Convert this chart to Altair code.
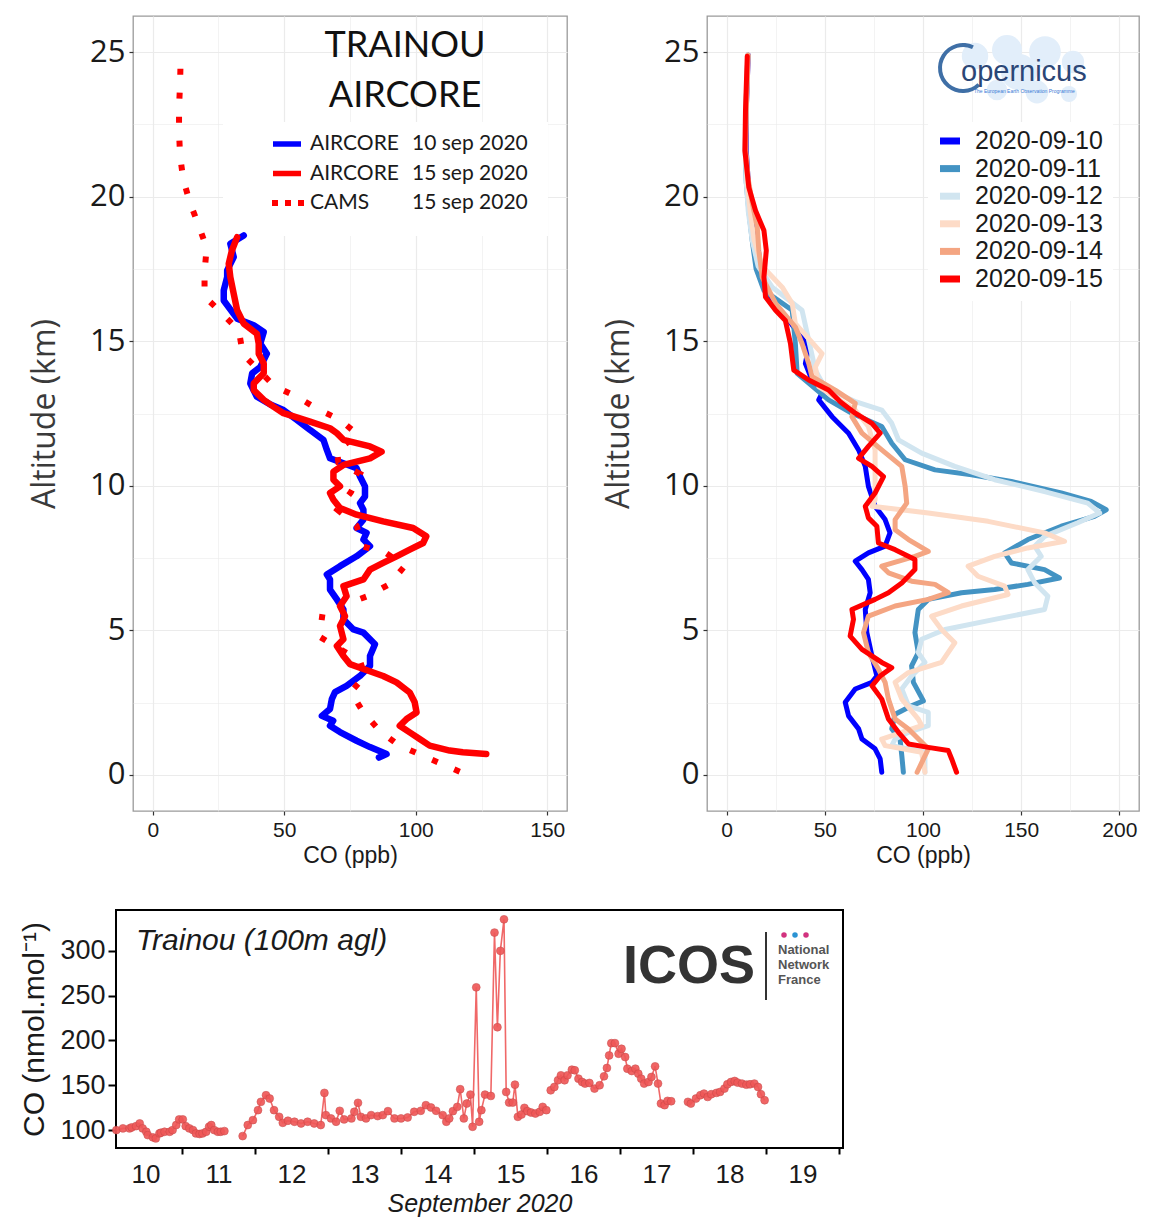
import altair as alt
import pandas as pd

# ---------------- Top-left panel: AIRCORE vertical profiles ----------------
AC10_ALT = [0.60, 0.72, 0.96, 1.18, 1.48, 1.70, 1.87, 2.04, 2.28, 2.62, 2.86, 3.08, 3.42, 3.77, 4.11,
            4.52, 4.92, 5.03, 5.38, 5.72, 6.07, 6.41, 6.76, 6.93, 7.22, 7.56, 7.91, 8.14, 8.37, 8.54,
            8.83, 9.17, 9.40, 9.63, 9.98, 10.32, 10.61, 10.78, 10.95, 11.24, 11.59, 11.93, 12.28, 12.62, 12.80,
            13.08, 13.54, 13.89, 14.11, 14.57, 14.92, 15.32, 15.55, 15.78, 16.41, 16.76, 17.22, 17.45, 17.91, 18.37,
            18.66]
AC10_CO = [86.0, 88.9, 82.6, 77.5, 71.2, 67.4, 68.6, 64.3, 67.4, 68.1, 69.3, 73.7, 78.8, 82.6, 82.6,
           84.5, 80.1, 76.3, 72.5, 72.5, 70.0, 67.4, 67.4, 66.2, 71.2, 77.5, 82.6, 80.1, 81.3, 77.5,
           80.1, 80.1, 78.8, 80.7, 80.7, 78.8, 77.5, 72.5, 67.4, 66.2, 64.9, 59.8, 54.8, 49.7, 45.0,
           39.6, 37.1, 37.8, 40.9, 43.4, 40.9, 42.2, 38.4, 32.1, 27.0, 27.0, 28.3, 28.3, 30.8, 29.5,
           34.6]
AC15_ALT = [0.72, 0.78, 0.84, 1.01, 1.24, 1.47, 1.70, 1.93, 2.16, 2.51, 2.85, 3.20, 3.42, 3.66, 3.83,
            4.11, 4.46, 4.69, 5.15, 5.49, 5.84, 6.18, 6.53, 6.76, 7.10, 7.33, 7.56, 7.79, 8.02, 8.25,
            8.54, 8.77, 9.00, 9.23, 9.52, 9.75, 9.98, 10.21, 10.49, 10.72, 10.95, 11.18, 11.36, 11.59, 11.82,
            11.99, 12.22, 12.51, 12.73, 12.97, 13.31, 13.54, 13.89, 14.23, 14.57, 14.92, 15.26, 15.61, 16.07, 16.64,
            17.22, 17.68, 18.14, 18.60]
AC15_CO = [126.8, 117.9, 112.9, 105.3, 101.5, 97.7, 93.9, 96.5, 100.3, 99.6, 97.7, 92.7, 87.6, 80.1, 75.0,
           72.5, 70.0, 72.5, 71.2, 73.1, 71.2, 73.7, 72.5, 80.1, 82.6, 87.6, 92.7, 97.7, 102.8, 104.0,
           99.0, 87.6, 77.5, 71.2, 68.7, 67.4, 71.2, 68.7, 68.7, 72.5, 82.6, 87.0, 82.6, 72.5, 70.0,
           67.4, 59.8, 49.7, 46.0, 42.2, 38.4, 38.4, 42.2, 42.2, 40.3, 40.3, 39.6, 34.6, 32.1, 30.8,
           29.5, 28.9, 30.1, 32.1]
CAMS15_ALT = [0.11, 1.03, 1.53, 2.16, 2.87, 3.42, 3.94, 4.78, 5.61, 6.18, 6.59, 7.22, 7.66, 7.91, 8.62,
              9.17, 9.77, 10.41, 10.80, 11.24, 11.76, 12.28, 12.64, 13.08, 13.45, 14.55, 15.38, 16.01, 16.55, 17.39,
              18.23, 19.00, 19.80, 20.61, 21.41, 22.25, 23.08, 23.91, 24.75]
CAMS15_CO = [116.7, 93.4, 86.2, 80.1, 75.3, 80.7, 78.8, 63.4, 64.6, 81.6, 89.9, 95.8, 88.9, 79.8, 77.5,
             70.2, 75.3, 78.8, 70.6, 70.0, 78.1, 71.2, 63.0, 54.8, 46.2, 34.3, 32.7, 25.8, 19.7, 19.7,
             20.5, 17.5, 14.1, 11.6, 10.4, 10.0, 10.0, 10.4, 10.6]

LEG_L_NAME = ["AIRCORE", "AIRCORE", "CAMS"]
LEG_L_DATE = ["10 sep 2020", "15 sep 2020", "15 sep 2020"]
LEG_L_COLOR = ["#0000ff", "#ff0000", "#ff0000"]
XL_TICKS = [0, 25, 50, 75, 100, 125, 150]

# ---------------- Top-right panel: CAMS daily forecasts ----------------
D10_ALT = [0.09, 0.55, 0.90, 1.24, 1.59, 2.04, 2.51, 2.97, 3.20, 3.42, 4.11, 4.92, 5.72, 6.30, 6.76,
           7.10, 7.39, 7.68, 7.91, 8.37, 8.83, 9.29, 9.98, 10.67, 11.24, 11.82, 12.39, 12.97, 13.20, 13.66,
           14.23, 14.80, 15.60, 16.50, 17.30, 18.20, 19.50, 20.50, 21.60, 23.00, 24.90]
D10_CO = [79.0, 78.2, 75.6, 68.9, 67.2, 62.1, 60.4, 65.5, 74.0, 76.5, 74.0, 71.4, 70.6, 73.1, 72.2,
          68.9, 65.5, 72.2, 80.7, 83.2, 80.7, 75.6, 72.2, 70.6, 67.2, 62.1, 53.7, 46.9, 48.6, 43.5,
          40.1, 41.8, 33.0, 22.0, 18.0, 16.0, 13.0, 11.0, 10.0, 10.0, 11.0]
D11_ALT = [0.09, 0.67, 1.24, 1.59, 2.10, 2.39, 2.56, 3.20, 3.77, 4.23, 4.92, 5.72, 6.07, 6.30, 6.41,
           6.59, 6.81, 7.10, 7.33, 7.68, 8.14, 8.60, 8.94, 9.17, 9.46, 9.75, 10.15, 10.38, 10.55, 10.90,
           11.47, 12.05, 12.51, 12.97, 13.89, 14.92, 16.07, 16.76, 17.50, 18.50, 19.52, 20.50, 21.60, 23.00, 24.90]
D11_CO = [90.0, 89.2, 88.3, 84.1, 85.8, 94.2, 100.2, 95.1, 94.2, 97.6, 95.9, 97.6, 102.7, 119.6, 136.5,
          153.4, 169.5, 161.9, 145.0, 141.6, 153.4, 170.4, 187.3, 193.3, 185.6, 170.4, 145.0, 124.7, 106.1, 90.9,
          84.1, 79.0, 63.8, 51.9, 35.9, 35.0, 33.4, 19.0, 15.0, 13.0, 11.3, 10.0, 9.5, 9.8, 10.8]
D12_ALT = [0.09, 0.78, 1.01, 1.24, 1.47, 1.70, 2.16, 2.39, 2.97, 3.42, 3.89, 4.23, 4.69, 5.03, 5.38,
           5.72, 6.18, 6.64, 7.10, 7.56, 7.91, 8.25, 8.72, 9.06, 9.40, 9.80, 10.21, 10.67, 11.13, 11.59,
           12.16, 12.62, 12.90, 13.40, 14.00, 15.03, 16.07, 16.87, 17.60, 18.50, 19.50, 20.50, 21.60, 23.00, 24.90]
D12_CO = [101.0, 101.0, 84.1, 85.8, 92.6, 102.7, 102.7, 92.6, 89.2, 94.2, 101.0, 97.6, 99.3, 111.2, 136.5,
          161.9, 163.6, 156.9, 153.4, 160.2, 156.9, 161.9, 178.8, 190.0, 183.9, 161.9, 136.5, 116.2, 99.3, 87.5,
          84.1, 79.0, 66.0, 50.0, 45.2, 41.8, 38.4, 23.2, 16.0, 13.0, 11.0, 10.0, 9.5, 9.8, 10.8]
D13_ALT = [0.09, 0.78, 1.01, 1.24, 1.47, 1.70, 1.93, 2.62, 3.20, 3.54, 3.89, 4.57, 5.03, 5.49, 5.84,
           6.24, 6.53, 6.87, 7.22, 7.56, 7.85, 8.08, 8.37, 8.77, 9.06, 9.29, 9.52, 10.32, 11.24, 12.05,
           12.62, 13.43, 14.11, 14.57, 15.61, 16.30, 16.87, 17.60, 18.50, 19.50, 20.50, 21.60, 23.00, 24.90]
D13_CO = [101.0, 99.3, 80.7, 79.0, 89.2, 99.3, 97.6, 89.2, 85.8, 92.6, 109.4, 116.2, 109.4, 104.4, 119.6,
          143.3, 141.6, 128.0, 123.0, 136.5, 153.4, 172.1, 161.9, 133.2, 102.7, 74.0, 75.6, 75.6, 75.6, 72.2,
          65.5, 46.9, 45.2, 48.6, 35.0, 33.4, 28.3, 18.0, 14.0, 12.0, 10.5, 9.5, 9.8, 10.8]
D14_ALT = [0.09, 0.90, 1.59, 1.93, 2.62, 3.20, 3.66, 4.23, 4.92, 5.49, 5.84, 6.07, 6.30, 6.59, 6.70,
           6.99, 7.22, 7.56, 7.73, 8.14, 8.48, 8.83, 9.40, 9.98, 10.67, 11.24, 11.82, 12.39, 12.85, 13.31,
           13.77, 14.23, 14.92, 15.49, 16.30, 17.22, 18.14, 18.94, 19.80, 20.60, 21.60, 23.00, 24.90]
D14_CO = [97.0, 102.7, 92.6, 85.8, 82.4, 80.7, 77.3, 72.2, 69.7, 72.2, 85.8, 102.7, 112.9, 106.1, 94.2,
          82.4, 79.0, 95.9, 102.7, 92.6, 85.8, 85.8, 91.7, 90.9, 89.2, 79.0, 68.9, 63.8, 65.5, 55.3,
          43.5, 41.8, 38.4, 35.0, 25.0, 18.1, 16.4, 15.6, 13.0, 11.0, 9.8, 10.0, 11.0]
D15_ALT = [0.09, 0.55, 0.84, 0.95, 1.07, 1.47, 1.93, 2.62, 3.08, 3.42, 3.71, 3.89, 4.34, 4.80, 5.38,
           5.72, 6.07, 6.30, 6.64, 7.10, 7.45, 7.79, 8.02, 8.60, 8.89, 9.29, 9.75, 10.32, 10.67, 10.95,
           11.36, 11.82, 12.16, 12.51, 12.90, 13.31, 13.66, 14.00, 14.92, 15.72, 16.07, 16.53, 17.22, 18.14, 18.83,
           19.52, 20.32, 21.59, 22.97, 24.86]
D15_CO = [117.1, 114.6, 112.9, 102.7, 92.6, 87.5, 82.4, 79.0, 74.0, 78.2, 84.1, 79.0, 68.9, 62.9, 64.6,
          63.8, 75.6, 82.4, 89.2, 95.9, 95.9, 85.8, 77.3, 76.5, 72.2, 70.6, 75.6, 79.9, 74.0, 67.2,
          72.2, 78.2, 74.0, 65.5, 58.0, 51.9, 41.8, 34.2, 32.5, 29.9, 24.9, 19.8, 19.0, 20.2, 19.0,
          14.7, 11.3, 9.3, 9.6, 10.5]

DATES_R = ["2020-09-10", "2020-09-11", "2020-09-12", "2020-09-13", "2020-09-14", "2020-09-15"]
COLORS_R = ["#0000ff", "#4393c3", "#d1e5f0", "#fddbc7", "#f4a582", "#ff0000"]
XR_TICKS = [0, 25, 50, 75, 100, 125, 150, 175, 200]
Y_TICKS = [0, 2.5, 5, 7.5, 10, 12.5, 15, 17.5, 20, 22.5, 25]

# ---------------- Bottom panel: ICOS Trainou 100 m time series ----------------
SEG0_DAY = [10.10, 10.19, 10.28, 10.31, 10.37, 10.42, 10.46, 10.51, 10.53, 10.60, 10.64, 10.69, 10.71, 10.76, 10.83,
            10.87, 10.92, 10.96, 11.01, 11.05, 11.10, 11.15, 11.19, 11.24, 11.28, 11.33, 11.37, 11.40, 11.44, 11.49,
            11.53, 11.58]
SEG0_CO = [100, 101.9, 101.9, 103, 104.4, 107.4, 101.9, 98.1, 94.4, 91.9, 90.7, 96.3, 97, 98.1, 98.1,
           100, 105.6, 111.9, 111.9, 104.4, 101.9, 100, 96.3, 95.6, 96.3, 98.1, 103.7, 105.6, 100, 98.1,
           98.1, 98.9]
SEG1_DAY = [11.83, 11.90, 11.97, 12.04, 12.08, 12.15, 12.20, 12.26, 12.33, 12.38, 12.45, 12.54, 12.63, 12.72, 12.81,
            12.90, 12.95, 12.97, 13.04, 13.11, 13.16, 13.22, 13.32, 13.36, 13.41, 13.45, 13.52, 13.59, 13.68, 13.75,
            13.82, 13.91, 14.00, 14.09, 14.18, 14.27, 14.34, 14.41, 14.48, 14.57, 14.62, 14.66, 14.71, 14.77, 14.81,
            14.86, 14.90, 14.95, 14.98, 15.03, 15.07, 15.10, 15.15, 15.23, 15.28, 15.32, 15.36, 15.41, 15.44, 15.48,
            15.53, 15.56, 15.60, 15.65, 15.69, 15.73, 15.78, 15.84, 15.90, 15.94, 15.99]
SEG1_CO = [93.3, 105.6, 111.1, 122.2, 131.5, 138.9, 135.2, 122.2, 114.8, 108.1, 110.4, 109.3, 107.4, 109.3, 107.4,
           105.6, 141.5, 116.7, 113.0, 109.3, 121.5, 111.9, 113.0, 120.4, 130.4, 114.8, 113.0, 116.7, 115.6, 116.7,
           121.1, 113.0, 113.0, 114.1, 120.4, 121.5, 127.8, 125.2, 121.5, 116.7, 109.3, 113.0, 121.1, 125.9, 145.6,
           113.0, 129.6, 139.6, 103.7, 259.3, 109.3, 122.2, 139.6, 138.1, 320.4, 214.8, 300.0, 335.2, 142.6, 130.7,
           130.7, 150.7, 114.8, 117.4, 124.8, 121.1, 119.6, 118.5, 120.4, 125.9, 122.2]
SEG2_DAY = [16.05, 16.10, 16.15, 16.19, 16.24, 16.28, 16.34, 16.38, 16.43, 16.48, 16.52, 16.58, 16.65, 16.72, 16.78,
            16.82, 16.85, 16.88, 16.93, 16.98, 17.02, 17.07, 17.10, 17.16, 17.21, 17.25, 17.29, 17.33, 17.39, 17.43,
            17.48, 17.52, 17.56, 17.61, 17.65, 17.70]
SEG2_CO = [144.4, 148.1, 155.6, 161.1, 155.6, 161.1, 167.4, 166.7, 157.4, 153.7, 151.9, 152.6, 146.3, 150.0, 160.0,
           169.3, 183.3, 197.0, 197.0, 185.2, 190.7, 181.5, 168.5, 165.9, 168.5, 163.0, 157.4, 151.9, 153.7, 159.3,
           171.1, 151.9, 129.6, 127.8, 132.6, 132.2]
SEG3_DAY = [17.93, 17.97, 18.04, 18.10, 18.15, 18.20, 18.25, 18.32, 18.37, 18.43, 18.47, 18.52, 18.57, 18.61, 18.67,
            18.73, 18.78, 18.84, 18.89, 18.93, 18.98]
SEG3_CO = [131.5, 129.6, 135.2, 138.9, 140.7, 137.0, 140.0, 141.5, 142.6, 146.3, 151.1, 153.7, 154.8, 153.0, 151.9,
           150.7, 151.1, 151.9, 148.1, 140.0, 133.3]
XB_TICKS = [11, 12, 13, 14, 15, 16, 17, 18, 19, 20]
YB_TICKS = [100, 150, 200, 250, 300]
ICOS_DOT_COLORS = ["#d2327f", "#2b93d3", "#d2327f"]
ICOS_WORDS = ["National", "Network", "France"]

# ---------------- helpers ----------------
ONE = pd.DataFrame({"k": [0]})
GRID = "#ebebeb"
TXT = "#1a1a1a"


def prof(alts, cos):
    assert len(alts) == len(cos)
    return pd.DataFrame({"alt": alts, "co": cos, "i": list(range(len(alts)))})


def cond(test, a, b):
    return {"condition": {"test": test, "value": a}, "value": b}


def x_axis(vals):
    t = "datum.value % 50 == 0"
    return alt.Axis(values=vals, title="CO (ppb)", domain=False, grid=True,
                    gridColor=GRID, gridWidth=cond(t, 1.2, 0.6),
                    tickOpacity=cond(t, 1, 0), tickColor="#333333", tickSize=4, tickWidth=1.2,
                    labelExpr=t + " ? datum.label : ''", labelOverlap=False, labelFlush=False,
                    labelFont="Liberation Sans", labelFontSize=21, labelColor=TXT, labelPadding=4,
                    titleFont="Liberation Sans", titleFontSize=23, titleFontWeight="normal",
                    titleColor=TXT, titlePadding=4)


def y_axis():
    t = "datum.value % 5 == 0"
    return alt.Axis(values=Y_TICKS, title="Altitude (km)", domain=False, grid=True,
                    gridColor=GRID, gridWidth=cond(t, 1.2, 0.6),
                    tickOpacity=cond(t, 1, 0), tickColor="#333333", tickSize=4, tickWidth=1.2,
                    labelExpr=t + " ? datum.label : ''", labelOverlap=False, labelFlush=False,
                    labelFont="Open Sans", labelFontSize=31, labelColor=TXT, labelPadding=4,
                    titleFont="Open Sans", titleFontSize=32, titleFontWeight="normal",
                    titleColor="#3a3a3a", titlePadding=28)


def txt(text, x, y, **kw):
    return alt.Chart(ONE).mark_text(text=text, **kw).encode(x=alt.value(x), y=alt.value(y))


def box(x, x2, y, y2):
    return alt.Chart(ONE).mark_rect(fill="white").encode(
        x=alt.value(x), x2=alt.value(x2), y=alt.value(y), y2=alt.value(y2))


YS = alt.Scale(domain=[-1.25, 26.25], nice=False, zero=False)
YENC = alt.Y("alt:Q", scale=YS, axis=y_axis())
PANEL_VIEW = alt.ViewBackground(stroke="#9a9a9a", strokeWidth=1.3, fill="white")

# ---------------- Left panel ----------------
XL = alt.X("co:Q", scale=alt.Scale(domain=[-7.5, 157.5], nice=False, zero=False), axis=x_axis(XL_TICKS))

left_layers = [box(90, 415, 106, 220)]
left_layers.append(alt.Chart(prof(AC10_ALT, AC10_CO)).mark_line(
    color="#0000ff", strokeWidth=6.5, strokeJoin="round", strokeCap="round").encode(
    x=XL, y=YENC, order=alt.Order("i:Q")))
left_layers.append(alt.Chart(prof(AC15_ALT, AC15_CO)).mark_line(
    color="#ff0000", strokeWidth=6.5, strokeJoin="round", strokeCap="round").encode(
    x=XL, y=YENC, order=alt.Order("i:Q")))
left_layers.append(alt.Chart(prof(CAMS15_ALT, CAMS15_CO)).mark_line(
    color="#ff0000", strokeWidth=6, strokeDash=[6, 18], strokeCap="butt").encode(
    x=XL, y=YENC, order=alt.Order("i:Q")))

left_layers.append(txt("TRAINOU", 272, 30, font="Lato", fontSize=36, color="#111111", align="center", baseline="middle"))
left_layers.append(txt("AIRCORE", 272, 80, font="Lato", fontSize=36, color="#111111", align="center", baseline="middle"))
for i, (nm, dt, col) in enumerate(zip(LEG_L_NAME, LEG_L_DATE, LEG_L_COLOR)):
    yy = 128 + 29.5 * i
    if nm == "CAMS":
        mk = alt.Chart(ONE).mark_rule(color=col, strokeWidth=6, strokeCap="butt", strokeDash=[6, 7])
        left_layers.append(mk.encode(x=alt.value(139), x2=alt.value(171), y=alt.value(yy)))
    else:
        mk = alt.Chart(ONE).mark_rule(color=col, strokeWidth=5.5, strokeCap="butt")
        left_layers.append(mk.encode(x=alt.value(140), x2=alt.value(168), y=alt.value(yy)))
    left_layers.append(txt(nm, 177, yy, font="Lato", fontSize=21, color=TXT, align="left", baseline="middle"))
    left_layers.append(txt(dt, 279, yy, font="Lato", fontSize=21, color=TXT, align="left", baseline="middle"))

left = alt.layer(*left_layers).properties(width=434, height=795, view=PANEL_VIEW)

# ---------------- Right panel ----------------
XR = alt.X("co:Q", scale=alt.Scale(domain=[-10, 210], nice=False, zero=False), axis=x_axis(XR_TICKS))
right_layers = [box(221, 406, 106, 285)]
# pale "world map" behind the Copernicus logo
for (mx, my, ms) in [(268, 40, 700), (300, 34, 900), (338, 36, 1000), (366, 46, 500),
                     (290, 74, 420), (330, 76, 520), (362, 78, 260), (312, 56, 1300)]:
    right_layers.append(alt.Chart(ONE).mark_circle(size=ms, color="#e2eefa", opacity=1).encode(
        x=alt.value(mx), y=alt.value(my)))
for (a_, c_), col in zip([(D10_ALT, D10_CO), (D11_ALT, D11_CO), (D12_ALT, D12_CO),
                          (D13_ALT, D13_CO), (D14_ALT, D14_CO), (D15_ALT, D15_CO)], COLORS_R):
    right_layers.append(alt.Chart(prof(a_, c_)).mark_line(
        color=col, strokeWidth=5, strokeJoin="round", strokeCap="round").encode(
        x=XR, y=YENC, order=alt.Order("i:Q")))
for i, (dt, col) in enumerate(zip(DATES_R, COLORS_R)):
    yy = 125 + 27.6 * i
    right_layers.append(alt.Chart(ONE).mark_rule(color=col, strokeWidth=7, strokeCap="butt").encode(
        x=alt.value(233), x2=alt.value(253), y=alt.value(yy)))
    right_layers.append(txt(dt, 268, yy, font="Liberation Sans", fontSize=25, color=TXT,
                            align="left", baseline="middle"))
# Copernicus logo (arc + text rendition)
right_layers.append(alt.Chart(ONE).mark_arc(radius=25, radius2=21, theta=2.38, theta2=6.73,
                                            color="#3f6fa6").encode(x=alt.value(256), y=alt.value(52)))
right_layers.append(txt("opernicus", 254, 65, font="Liberation Sans", fontSize=29, color="#2b4676",
                        align="left", baseline="alphabetic"))
right_layers.append(txt("The European Earth Observation Programme", 267, 75, font="Liberation Sans",
                        fontSize=5, color="#3a7bd5", align="left", baseline="middle"))

right = alt.layer(*right_layers).properties(width=432, height=795, view=PANEL_VIEW)

# ---------------- Bottom panel ----------------
frames = []
for s, (d_, c_) in enumerate([(SEG0_DAY, SEG0_CO), (SEG1_DAY, SEG1_CO), (SEG2_DAY, SEG2_CO), (SEG3_DAY, SEG3_CO)]):
    assert len(d_) == len(c_)
    frames.append(pd.DataFrame({"day": d_, "co": c_, "seg": s}))
icos = pd.concat(frames, ignore_index=True)

XB = alt.X("day:Q", scale=alt.Scale(domain=[10.095, 20.054], nice=False, zero=False),
           axis=alt.Axis(values=XB_TICKS, title="September 2020", domain=False, grid=False,
                         labelExpr="'' + (datum.value - 1)", labelOffset=-36.5, labelFlush=False,
                         labelOverlap=False, tickColor="black", tickSize=6, tickWidth=2,
                         labelFont="Liberation Sans", labelFontSize=26, labelColor=TXT, labelPadding=7,
                         titleFont="Liberation Sans", titleFontSize=25, titleFontStyle="italic",
                         titleFontWeight="normal", titleColor=TXT, titlePadding=4))
YB = alt.Y("co:Q", scale=alt.Scale(domain=[80, 345.6], nice=False, zero=False),
           axis=alt.Axis(values=YB_TICKS, title="CO (nmol.mol⁻¹)", domain=False, grid=False,
                         tickColor="black", tickSize=8, tickWidth=2, labelFlush=False,
                         labelFont="Liberation Sans", labelFontSize=27, labelColor=TXT, labelPadding=3,
                         titleFont="Liberation Sans", titleFontSize=30, titleFontWeight="normal",
                         titleColor=TXT, titlePadding=10))

b_layers = [
    alt.Chart(icos).mark_line(color="#f06868", strokeWidth=1.6).encode(
        x=XB, y=YB, detail="seg:N", order=alt.Order("day:Q")),
    alt.Chart(icos).mark_circle(size=62, color="#ef5858", opacity=0.92, stroke="#c84848",
                                strokeWidth=0.6).encode(x=XB, y=YB),
    txt("Trainou (100m agl)", 20, 31, font="Liberation Sans", fontSize=30, fontStyle="italic",
        color=TXT, align="left", baseline="middle"),
    txt("ICOS", 507, 57, font="Liberation Sans", fontSize=54, fontWeight="bold", color="#333333",
        align="left", baseline="middle"),
    alt.Chart(ONE).mark_rule(color="#333333", strokeWidth=2).encode(
        x=alt.value(650), y=alt.value(22), y2=alt.value(90)),
]
for i, col in enumerate(ICOS_DOT_COLORS):
    b_layers.append(alt.Chart(ONE).mark_circle(size=30, color=col, opacity=1).encode(
        x=alt.value(668 + 11 * i), y=alt.value(25)))
for i, w in enumerate(ICOS_WORDS):
    b_layers.append(txt(w, 662, 40 + 15 * i, font="Liberation Sans", fontSize=13, fontWeight="bold",
                        color="#555555", align="left", baseline="middle"))

bottom = alt.layer(*b_layers).properties(
    width=727, height=238, view=alt.ViewBackground(stroke="black", strokeWidth=2, fill="white"))

# ---------------- Assembly ----------------
spacer = alt.Chart(ONE).mark_point(opacity=0, size=1).properties(
    width=1, height=1, view=alt.ViewBackground(strokeOpacity=0))
inner = alt.hconcat(left, right, spacing=33)
top = alt.hconcat(spacer, inner, spacing=-90)
chart = alt.vconcat(top, bottom, spacing=41).properties(
    padding={"left": 10, "top": 7, "right": 0, "bottom": 0}, background="white")

chart.save("out.html", embed_options={"renderer": "svg", "actions": False})
